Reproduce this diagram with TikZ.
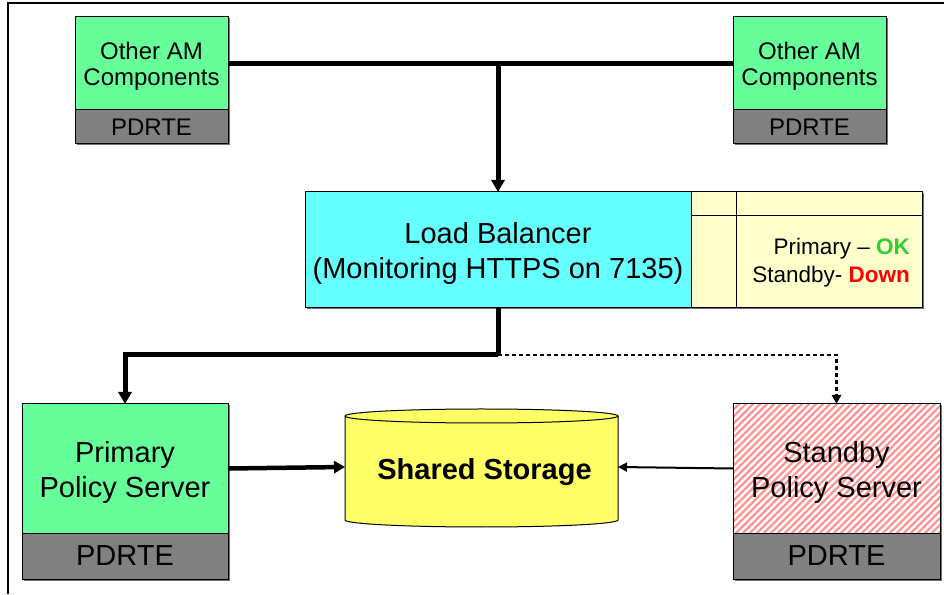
\documentclass[tikz,border=0pt]{standalone}
\usepackage{fontspec}
\setmainfont{Liberation Sans}
\usetikzlibrary{arrows.meta,shadows}
\definecolor{amgreen}{RGB}{102,255,153}
\definecolor{lbcyan}{RGB}{102,255,255}
\definecolor{tblyellow}{RGB}{255,255,204}
\definecolor{storyellow}{RGB}{255,255,102}
\definecolor{rtgray}{RGB}{128,128,128}
\definecolor{hatchred}{RGB}{255,150,150}
\definecolor{okgreen}{RGB}{51,204,51}
\definecolor{downred}{RGB}{255,0,0}
\begin{document}
\begin{tikzpicture}[x=1pt,y=1pt,
  box/.style={draw=black, line width=1pt, inner sep=0pt, outer sep=0pt, align=center,
    drop shadow={shadow xshift=1.5pt, shadow yshift=-1.5pt, fill=black!55, opacity=1}},
  label text/.style={inner sep=0pt, outer sep=0pt, align=center},
  smallfont/.style={font=\fontsize{24}{26}\selectfont},
  bigfont/.style={font=\fontsize{29}{35}\selectfont},
  tblfont/.style={font=\fontsize{22.5}{28}\selectfont},
  greenpart/.style={box, fill=amgreen},
  rtpart/.style={box, fill=rtgray},
  bus/.style={line width=5pt},
  busarrow/.style={line width=5pt, -{Triangle[length=12pt,width=13pt]}},
  feed/.style={line width=4.5pt, -{Triangle[length=11pt,width=12pt]}},
  thinarrow/.style={line width=2pt, -{Triangle[length=9pt,width=9pt]}},
  standbylink/.style={line width=2.5pt, dash pattern=on 4pt off 3pt, -{Triangle[length=9pt,width=9pt]}}
]
\useasboundingbox (0,0) rectangle (944,594);
\fill[white] (0,0) rectangle (944,594);

% page frame (top and left edges)
\draw[line width=1.5pt] (8,0) -- (8,591) -- (944,591);

% other AM components, left and right
\node[greenpart, minimum width=153, minimum height=93] (amL) at (151.5,530.5) {};
\node[label text, smallfont] (amLtext) at ([yshift=-3pt]amL.center) {Other AM\\Components};
\node[rtpart, smallfont, minimum width=153, minimum height=34] (amLrt) at (151.5,467) {PDRTE};
\node[greenpart, minimum width=153, minimum height=93] (amR) at (809.5,530.5) {};
\node[label text, smallfont] (amRtext) at ([yshift=-3pt]amR.center) {Other AM\\Components};
\node[rtpart, smallfont, minimum width=153, minimum height=34] (amRrt) at (809.5,467) {PDRTE};

% load balancer and its status table
\node[box, fill=lbcyan, minimum width=386, minimum height=116] (lb) at (498,344) {};
\node[label text, bigfont] (lbtext) at ([yshift=-4pt]lb.center) {Load Balancer\\(Monitoring HTTPS on 7135)};
\node[box, fill=tblyellow, minimum width=231, minimum height=116] (tbl) at (806.5,344) {};
\draw[line width=0.8pt] (tbl.north west -| 736,0) -- (tbl.south west -| 736,0);
\draw[line width=0.8pt] (tbl.west |- 0,379) -- (tbl.east |- 0,379);
\node[tblfont, anchor=base east, inner sep=0pt] (okline) at (910,339) {Primary -- \textbf{\textcolor{okgreen}{OK}}};
\node[tblfont, anchor=base east, inner sep=0pt] (downline) at (910,311) {Standby- \textbf{\textcolor{downred}{Down}}};

% primary policy server
\node[greenpart, minimum width=206, minimum height=129] (prim) at (125,125.5) {};
\node[label text, bigfont] (primtext) at ([yshift=-4pt]prim.center) {Primary\\Policy Server};
\node[rtpart, bigfont, minimum width=206, minimum height=46] (primrt) at (125,38) {PDRTE};

% standby policy server (hatched)
\node[box, fill=white, minimum width=207, minimum height=129] (stby) at (836.5,125.5) {};
\begin{scope}
  \clip (stby.south west) rectangle (stby.north east);
  \foreach \k in {-140,-133,...,215}
    \draw[hatchred, line width=2.4pt] (733+\k,58) -- (733+\k+135,193);
\end{scope}
\draw[line width=1pt] (stby.south west) rectangle (stby.north east);
\node[label text, bigfont] (stbytext) at ([yshift=-4pt]stby.center) {Standby\\Policy Server};
\node[rtpart, bigfont, minimum width=207, minimum height=46] (stbyrt) at (836.5,38) {PDRTE};

% shared storage cylinder
\filldraw[fill=storyellow, draw=black, line width=1pt]
  (345,178) -- (345,74) arc[start angle=180, end angle=360, x radius=136.5, y radius=7]
  -- (618,178) arc[start angle=0, end angle=180, x radius=136.5, y radius=7] -- cycle;
\draw[line width=1pt] (345,178) arc[start angle=180, end angle=360, x radius=136.5, y radius=7];
\node[inner sep=0pt, outer sep=0pt, minimum width=273, minimum height=118] (stor) at (481.5,127) {};
\node[label text, font=\fontsize{29}{35}\selectfont\bfseries] (stortext) at ([xshift=3pt,yshift=-5pt]stor.center) {Shared Storage};

% connectors
\coordinate (busj) at (498,530);
\coordinate (split) at (498,239);
\draw[bus] (amL.east) -- (amR.west);
\draw[busarrow] (busj) -- (lb.north);
\draw[line width=5pt] (lb.south) -- (split);
\draw[busarrow] (split) -| (prim.north);
\draw[standbylink] (split) -| (stby.north);
\draw[feed] (prim.east) -- (stor.west);
\draw[thinarrow] (stby.west) -- (stor.east);
\end{tikzpicture}
\end{document}
